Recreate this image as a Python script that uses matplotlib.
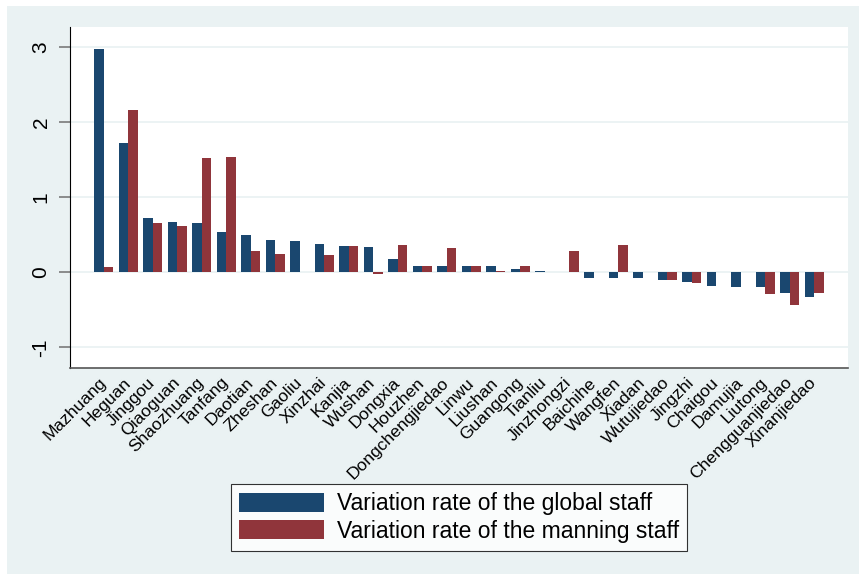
import matplotlib.pyplot as plt
from matplotlib.patches import Rectangle
import numpy as np

plt.rcParams['font.family'] = ['Liberation Sans', 'DejaVu Sans']
plt.rcParams['axes.unicode_minus'] = False

# Datos
towns = ['Mazhuang', 'Heguan', 'Jinggou', 'Qiaoguan', 'Shaozhuang', 'Tanfang',
         'Daotian', 'Zheshan', 'Gaoliu', 'Xinzhai', 'Kanjia', 'Wushan', 'Dongxia',
         'Houzhen', 'Dongchengjiedao', 'Linwu', 'Liushan', 'Guangong', 'Tianliu',
         'Jinzhongzi', 'Baichihe', 'Wangfen', 'Xiadan', 'Wutujiedao', 'Jingzhi',
         'Chaigou', 'Damujia', 'Liutong', 'Chengguanjiedao', 'Xinanjiedao']
global_staff = [2.97, 1.72, 0.72, 0.67, 0.66, 0.54, 0.50, 0.43, 0.42, 0.38,
                0.35, 0.34, 0.18, 0.09, 0.09, 0.08, 0.08, 0.04, 0.02, 0.0,
                -0.075, -0.075, -0.075, -0.10, -0.13, -0.18, -0.19, -0.20, -0.28, -0.33]
manning_staff = [0.07, 2.16, 0.66, 0.61, 1.52, 1.53, 0.29, 0.25, 0.0, 0.23,
                 0.35, -0.02, 0.36, 0.09, 0.33, 0.08, 0.02, 0.08, 0.0, 0.29,
                 0.0, 0.36, 0.0, -0.10, -0.14, 0.0, 0.0, -0.29, -0.43, -0.27]
labels = ['Variation rate of the global staff', 'Variation rate of the manning staff']

bg = '#EAF2F3'
azul = '#1a476f'
rojo = '#90353b'

fig = plt.figure(figsize=(8.59, 5.74), dpi=100)
fig.patch.set_facecolor('white')
fig.patches.append(Rectangle((7 / 859, 0), 1, 568 / 574, transform=fig.transFigure,
                             facecolor=bg, edgecolor='none', zorder=0))

ax = fig.add_axes([70 / 859, 206.3 / 574, 778 / 859, 341 / 574])
ax.set_zorder(2)
ax.set_facecolor('white')

x = np.arange(len(towns))
w = 0.385
ax.bar(x - w / 2, global_staff, w, color=azul, linewidth=0,
       label=labels[0], zorder=3)
ax.bar(x + w / 2, manning_staff, w, color=rojo, linewidth=0,
       label=labels[1], zorder=3)

ax.set_xlim(-1.38, len(towns) - 1 + 1.38)
ax.set_ylim(-1.27, 3.27)
ax.set_yticks([-1, 0, 1, 2, 3])
ax.yaxis.grid(True, color=bg, linewidth=1.3, zorder=0)
ax.set_axisbelow(True)
ax.tick_params(axis='y', length=8, width=1.2, color='#7a7a7a', pad=6,
               labelsize=15, labelrotation=90)
for t in ax.get_yticklabels():
    t.set_va('center')

ax.set_xticks(x)
ax.set_xticklabels(towns, rotation=45, ha='right', va='center',
                   rotation_mode='anchor', fontsize=12.6)
ax.tick_params(axis='x', length=0, pad=9)

ax.spines['top'].set_visible(False)
ax.spines['right'].set_visible(False)
ax.spines['left'].set_color('black')
ax.spines['bottom'].set_color('#555555')
ax.spines['bottom'].set_linewidth(1.2)

leg = fig.legend(loc='center', bbox_to_anchor=(458.9 / 859, 56.5 / 574), fontsize=16.5,
                 handlelength=3.7, handleheight=0.9, handletextpad=0.55,
                 labelspacing=0.2, borderpad=0.35, fancybox=False, frameon=True)
leg.set_zorder(3)
leg.get_frame().set_edgecolor('black')
leg.get_frame().set_linewidth(0.8)

plt.savefig('out.png', dpi=100, facecolor=fig.get_facecolor())
